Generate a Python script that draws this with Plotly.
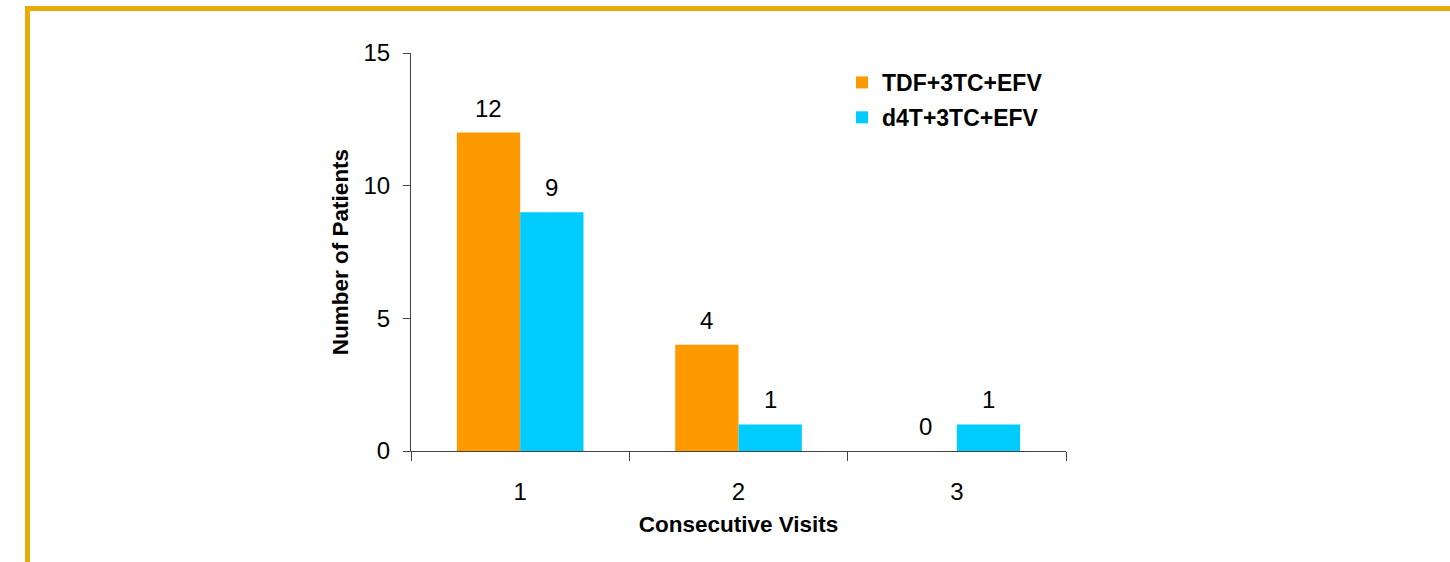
import plotly.graph_objects as go

categories = ["1", "2", "3"]
series_names = ["TDF+3TC+EFV", "d4T+3TC+EFV"]
tdf_values = [12, 4, 0]
d4t_values = [9, 1, 1]
y_ticks = [0, 5, 10, 15]

colors = ["#FF9900", "#00CCFF"]
FONT = "Liberation Sans, Arial, sans-serif"

W, H = 1450, 562
L, R, T, B = 411, 384, 53, 111
plot_w = W - L - R
plot_h = H - T - B
bargap = 0.42
cat_px = plot_w / len(categories)
bar_px = cat_px * (1 - bargap) / 2

fig = go.Figure()
for name, vals, col in zip(series_names, [tdf_values, d4t_values], colors):
    fig.add_trace(go.Bar(x=categories, y=vals, name=name, marker_color=col,
                         marker_line_width=0, legendgroup=name))

annotations = []
for si, vals in enumerate([tdf_values, d4t_values]):
    shift = (si - 0.5) * bar_px
    for ci, v in enumerate(vals):
        annotations.append(dict(x=ci, y=v, xref="x", yref="y", text=str(v),
                                showarrow=False, xshift=shift, yshift=9,
                                yanchor="bottom",
                                font=dict(family=FONT, size=24, color="#000")))

gold = "#E8AB0C"
shapes = [
    dict(type="line", xref="paper", yref="paper",
         x0=(25 - L) / plot_w, x1=(W + 5 - L) / plot_w,
         y0=(T + plot_h - 8.5) / plot_h, y1=(T + plot_h - 8.5) / plot_h,
         line=dict(color=gold, width=5)),
    dict(type="line", xref="paper", yref="paper",
         x0=(27.5 - L) / plot_w, x1=(27.5 - L) / plot_w,
         y0=(T + plot_h - 6) / plot_h, y1=(T + plot_h - H - 5) / plot_h,
         line=dict(color=gold, width=5)),
]

fig.update_layout(
    width=W, height=H,
    margin=dict(l=L, r=R, t=T, b=B, pad=0),
    paper_bgcolor="white", plot_bgcolor="white",
    bargap=bargap, bargroupgap=0,
    font=dict(family=FONT, size=24, color="#000"),
    showlegend=True,
    legend=dict(x=0.658, y=0.98, xanchor="left", yanchor="top",
                font=dict(family=FONT, size=23, color="#000", weight="bold"),
                bgcolor="rgba(0,0,0,0)", tracegroupgap=2, traceorder="grouped"),
    xaxis=dict(type="category", showline=True, linecolor="#444", linewidth=1,
               ticks="outside", ticklen=9, tickcolor="#444", tickson="boundaries",
               showgrid=False, zeroline=False, ticklabelstandoff=19,
               tickfont=dict(family=FONT, size=24, color="#000"),
               title=dict(text="Consecutive Visits", standoff=12,
                          font=dict(family=FONT, size=22.5, color="#000", weight="bold"))),
    yaxis=dict(range=[0, 15], tickvals=y_ticks, showline=True, linecolor="#444",
               linewidth=1, ticks="outside", ticklen=7, tickcolor="#444",
               showgrid=False, zeroline=False, ticklabelstandoff=8,
               tickfont=dict(family=FONT, size=24, color="#000"),
               title=dict(text="Number of Patients", standoff=8,
                          font=dict(family=FONT, size=22.5, color="#000", weight="bold"))),
    annotations=annotations,
    shapes=shapes,
)

fig.write_html("out.html", config={"displayModeBar": False},
               post_script="document.body.style.margin='0';")
